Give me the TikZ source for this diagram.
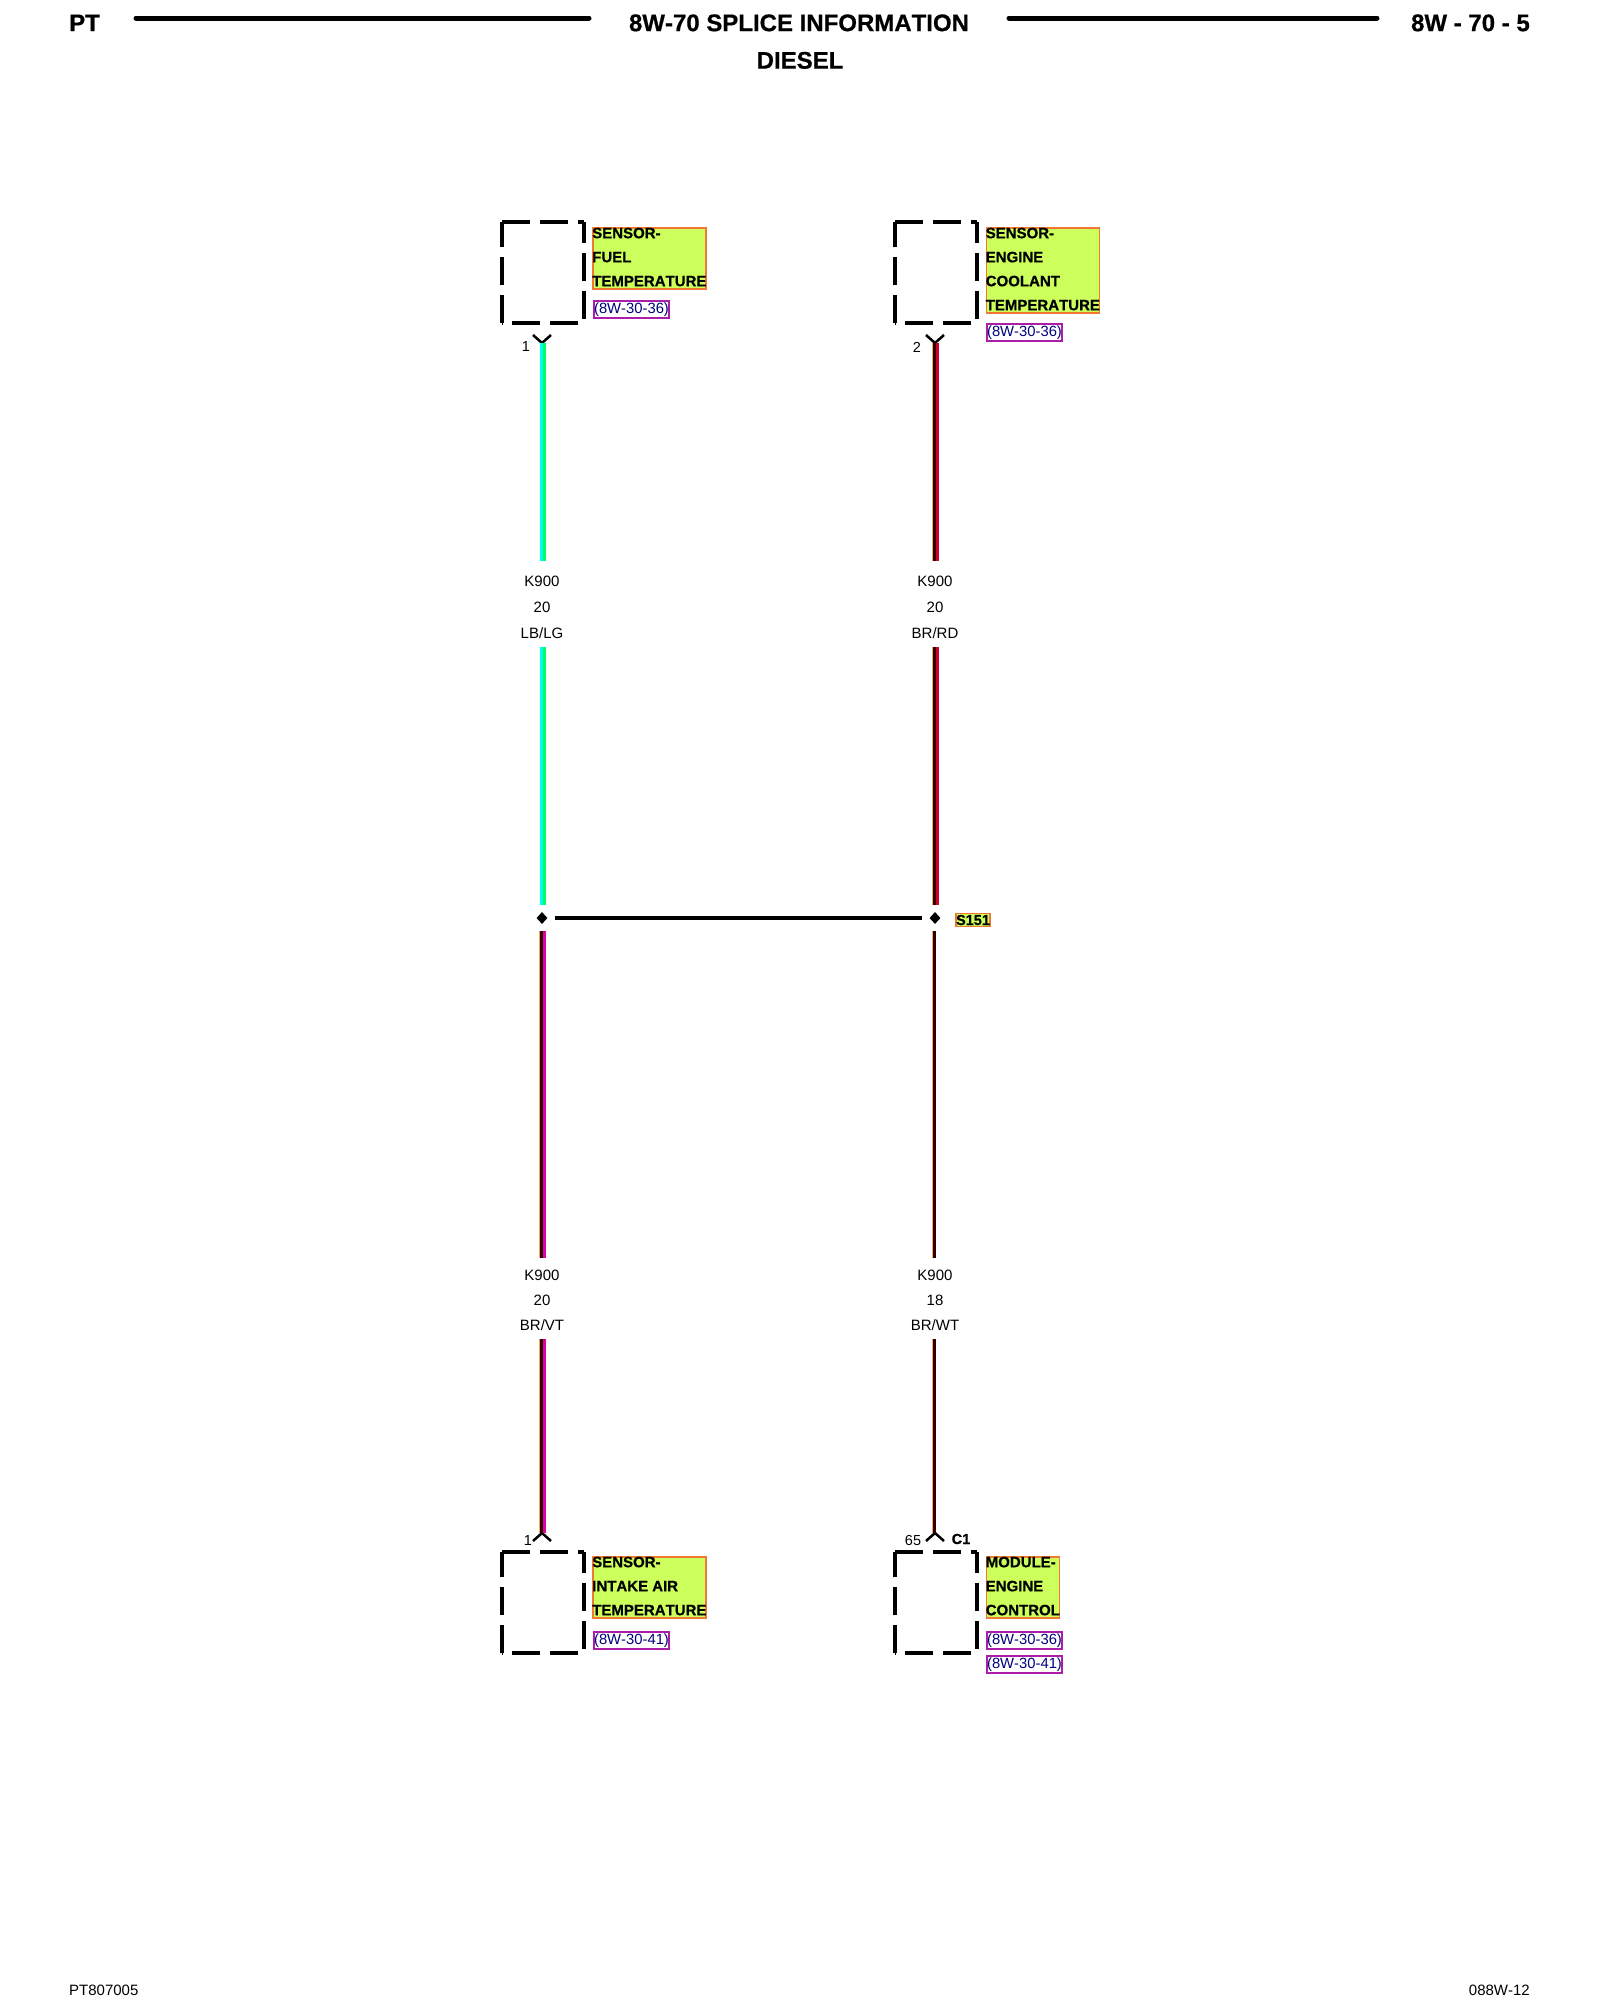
\documentclass[tikz,border=0pt]{standalone}
\usepackage{fontspec}
\setmainfont[Kerning=Off,BoldFeatures={FakeBold=0.6}]{Liberation Sans}
\usetikzlibrary{shapes.geometric,calc}
\definecolor{lblfill}{RGB}{204,255,92}
\definecolor{lbledge}{RGB}{240,120,50}
\definecolor{refedge}{RGB}{170,30,170}
\definecolor{refink}{RGB}{0,0,128}
\definecolor{lbblue}{RGB}{0,255,240}
\definecolor{lggreen}{RGB}{0,255,100}
\definecolor{brdark}{RGB}{45,0,0}
\definecolor{brtan}{RGB}{245,170,90}
\definecolor{rdred}{RGB}{205,0,45}
\definecolor{vtpink}{RGB}{225,0,165}
\tikzset{
  headtext/.style={font=\fontsize{24}{28}\bfseries\selectfont,inner sep=0pt},
  headline/.style={line width=5pt,line cap=round},
  foottext/.style={font=\fontsize{15}{18}\selectfont,inner sep=0pt},
  connbox/.style={minimum width=82pt,minimum height=101pt,inner sep=0pt,anchor=north west},
  dashside/.style={line width=4pt,dash pattern=on 28pt off 10pt},
  lblbox/.style={draw=lbledge,line width=1.5pt,fill=lblfill,anchor=north west,inner ysep=0pt,inner xsep=-0.5pt,align=left,
    font=\fontsize{15}{24}\bfseries\selectfont,execute at end node={\rule[-3pt]{0pt}{3pt}}},
  refbox/.style={draw=refedge,line width=2pt,fill=white,text=refink,anchor=north west,inner sep=0pt,
    minimum width=75pt,minimum height=17pt,font=\fontsize{14.8}{16}\selectfont},
  wiretext/.style={font=\fontsize{15}{18}\selectfont,inner sep=0pt,text height=11pt,text depth=0pt},
  wirename/.style={wiretext,outer ysep=14.5pt},
  wirecolor/.style={wiretext,outer ysep=8.5pt},
  pintext/.style={font=\fontsize{14.5}{16}\selectfont,inner sep=0pt},
  pinfork/.style={line width=2.5pt},
  splice/.style={diamond,fill=black,inner sep=0pt,minimum width=11pt,minimum height=12pt},
  splicetag/.style={draw=lbledge,line width=1.5pt,fill=lblfill,inner sep=0pt,minimum width=34pt,minimum height=13pt,
    font=\fontsize{14.5}{16}\bfseries\selectfont},
  bus/.style={line width=4.5pt,shorten >=7pt,shorten <=7pt},
  leftstrand/.style={draw=#1,line width=3pt,transform canvas={xshift=-1pt}},
  rightstrand/.style={draw=#1,line width=3pt,transform canvas={xshift=2pt}},
  fringe/.style={draw=brtan,line width=1pt,transform canvas={xshift=-3pt}}
}
\begin{document}
\begin{tikzpicture}[x=1pt,y=-1pt]
\useasboundingbox (0,0) rectangle (1600,2000);
% page head and foot
\node[headtext,anchor=mid west] (pt) at (69,28.5) {PT};
\node[headtext,anchor=mid] (title) at (799,28.5) {8W-70 SPLICE INFORMATION};
\node[headtext,anchor=mid] (diesel) at (800,66) {DIESEL};
\node[headtext,anchor=mid east] (page) at (1530,28.5) {8W - 70 - 5};
\draw[headline] (136,18) -- (589,18);
\draw[headline] (1009,18) -- (1377,18);
\node[foottext,anchor=mid west] (fig) at (69,1993) {PT807005};
\node[foottext,anchor=mid east] (code) at (1530,1993) {088W-12};
% connectors
\node[connbox] (fuel) at (502,222) {};
\node[connbox] (coolant) at (895,222) {};
\node[connbox] (intake) at (502,1552) {};
\node[connbox] (ecm) at (895,1552) {};
\foreach \b in {fuel,coolant,intake,ecm} {
\draw[dashside] (\b.south west) -- (\b.north west);
\draw[dashside] (\b.north west) -- (\b.north east);
\draw[dashside,dash phase=7pt] (\b.north east) -- (\b.south east);
\draw[dashside,dash phase=32pt] (\b.south east) -- (\b.south west);
}
% component labels
\node[lblbox,minimum height=61pt] (fuellbl) at (592,227) {SENSOR-\\FUEL\\TEMPERATURE};
\node[refbox] (fuelref) at (593,300) {(8W-30-36)};
\node[lblbox,minimum height=85pt] (coolantlbl) at (985.5,227) {SENSOR-\\ENGINE\\COOLANT\\TEMPERATURE};
\node[refbox] (coolantref) at (986,323) {(8W-30-36)};
\node[lblbox,minimum height=61pt] (intakelbl) at (592,1556) {SENSOR-\\INTAKE AIR\\TEMPERATURE};
\node[refbox] (intakeref) at (593,1631) {(8W-30-41)};
\node[lblbox,minimum height=61pt] (ecmlbl) at (985.5,1556) {MODULE-\\ENGINE\\CONTROL};
\node[refbox] (ecmref) at (986,1631) {(8W-30-36)};
\node[refbox] (ecmrefb) at (986,1655) {(8W-30-41)};
% pins
\coordinate (pina) at (542,343);
\coordinate (pinb) at (935,343);
\coordinate (pinc) at (542,1533);
\coordinate (pind) at (935,1533);
\foreach \p in {pina,pinb} {
\draw[pinfork] ($(\p)+(-9,-8)$) -- (\p) -- ($(\p)+(9,-8)$);
}
\foreach \p in {pinc,pind} {
\draw[pinfork] ($(\p)+(-9,8)$) -- (\p) -- ($(\p)+(9,8)$);
}
\node[pintext] (pinatxt) at (526,347) {1};
\node[pintext] (pinbtxt) at (917,347) {2};
\node[pintext] (pinctxt) at (528,1540) {1};
\node[pintext] (pindtxt) at (913,1540) {65};
\node[pintext,font=\fontsize{14.5}{16}\bfseries\selectfont] (c1) at (961,1539) {C1};
% wire texts
\node[wirename] (ka) at (542,581) {K900};
\node[wiretext] (ga) at (542,607) {20};
\node[wirecolor] (ca) at (542,633) {LB/LG};
\node[wirename] (kb) at (935,581) {K900};
\node[wiretext] (gb) at (935,607) {20};
\node[wirecolor] (cb) at (935,633) {BR/RD};
\node[wirename,outer ysep=11.5pt] (kc) at (542,1275) {K900};
\node[wiretext] (gc) at (542,1300) {20};
\node[wirecolor] (cc) at (542,1325) {BR/VT};
\node[wirename,outer ysep=11.5pt] (kd) at (935,1275) {K900};
\node[wiretext] (gd) at (935,1300) {18};
\node[wirecolor] (cd) at (935,1325) {BR/WT};
% splice
\node[splice] (spa) at (542,918) {};
\node[splice] (spb) at (935,918) {};
\node[splicetag] (s151) at (973,920) {S151};
\draw[bus] (spa) -- (spb);
% wires
\foreach \from/\to/\gap in {pina/ka.north/0pt,ca.south/spa.north/7pt} {
\draw[leftstrand=lbblue,shorten >=\gap] (\from) -- (\to);
\draw[rightstrand=lggreen,shorten >=\gap] (\from) -- (\to);
}
\foreach \from/\to/\gap in {pinb/kb.north/0pt,cb.south/spb.north/7pt} {
\draw[fringe,shorten >=\gap] (\from) -- (\to);
\draw[leftstrand=brdark,shorten >=\gap] (\from) -- (\to);
\draw[rightstrand=rdred,shorten >=\gap] (\from) -- (\to);
}
\foreach \from/\to/\gap in {kc.north/spa.south/7pt,pinc/cc.south/0pt} {
\draw[fringe,shorten >=\gap] (\from) -- (\to);
\draw[leftstrand=brdark,shorten >=\gap] (\from) -- (\to);
\draw[rightstrand=vtpink,shorten >=\gap] (\from) -- (\to);
}
\foreach \from/\to/\gap in {kd.north/spb.south/7pt,pind/cd.south/0pt} {
\draw[fringe,shorten >=\gap] (\from) -- (\to);
\draw[leftstrand=brdark,shorten >=\gap] (\from) -- (\to);
}
\end{tikzpicture}
\end{document}
